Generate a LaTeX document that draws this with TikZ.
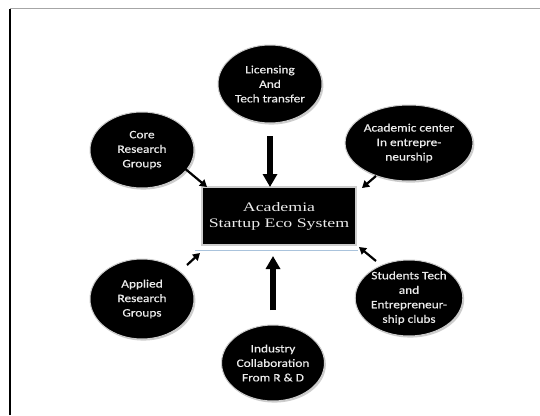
\documentclass[tikz,border=0pt]{standalone}
\usepackage{fontspec}
\setmainfont[FakeStretch=1.18,FakeBold=0.5]{Carlito}
\newfontfamily\titlefont[FakeStretch=1.37]{Liberation Serif}
\usetikzlibrary{arrows.meta,shadows,shapes.geometric}
\definecolor{rimgray}{RGB}{205,205,205}
\definecolor{paleblue}{RGB}{170,195,220}
\definecolor{softwhite}{RGB}{235,235,235}
\tikzset{
  bubble/.style={ellipse, fill=black, draw=rimgray, line width=1pt,
    drop shadow={shadow xshift=1.4pt, shadow yshift=-1.6pt, fill=rimgray, opacity=1},
    text=softwhite, align=center, inner sep=0pt,
    font=\fontsize{11.3}{14.5}\selectfont},
  titlebox/.style={rectangle, fill=black, draw=rimgray, line width=1.8pt,
    drop shadow={shadow xshift=1.2pt, shadow yshift=-1.2pt, fill=rimgray!70, opacity=1},
    text=softwhite, align=center, inner sep=0pt,
    font=\titlefont\fontsize{13}{16}\selectfont},
  bigarrow/.style={line width=5.5pt, -{Triangle[width=14pt,length=13pt]}},
  smallarrow/.style={line width=2.2pt, -{Triangle[width=8pt,length=7pt]}},
}
\begin{document}
\begin{tikzpicture}[x=1pt,y=-1pt]
\useasboundingbox (0,0) rectangle (540,415);
\fill[white] (0,0) rectangle (540,415);
% outer frame (open at right and bottom)
\draw[gray!70, line width=1.4pt] (10,8.5) -- (540,8.5);
\draw[black, line width=1.8pt] (10,415) -- (10,8.5);

\node[bubble, minimum width=104pt, minimum height=78pt] (lic) at (270,84) {Licensing\\And\\Tech transfer};
\node[bubble, minimum width=104pt, minimum height=76pt] (core) at (142,150) {Core\\Research\\Groups};
\node[bubble, minimum width=106pt, minimum height=76pt] (acad) at (409,143) {Academic center\\In entrepre-\\neurship};
\node[bubble, minimum width=104pt, minimum height=80pt] (appl) at (142,299) {Applied\\Research\\Groups};
\node[bubble, minimum width=106pt, minimum height=76pt] (stud) at (409,298) {Students Tech\\and\\Entrepreneur-\\ship clubs};
\node[bubble, minimum width=102pt, minimum height=76pt] (ind) at (273,363) {Industry\\Collaboration\\From R \& D};

\node[titlebox, minimum width=154pt, minimum height=58pt] (box) at (279,216) {Academia\\Startup Eco System};
\coordinate (bl1) at (195,250);
\coordinate (bl2) at (358,250);
\draw[paleblue, line width=0.8pt] (bl1) -- (bl2);

\coordinate (t1) at (270,136); \coordinate (t2) at (270,187);
\coordinate (b1) at (273,310); \coordinate (b2) at (273,256);
\coordinate (c1) at (183,167); \coordinate (c2) at (207,187);
\coordinate (a1) at (376,176); \coordinate (a2) at (362,188);
\coordinate (p1) at (187,265); \coordinate (p2) at (200,253);
\coordinate (s1) at (376,261); \coordinate (s2) at (359,247);
\draw[bigarrow] (t1) -- (t2);
\draw[bigarrow] (b1) -- (b2);
\draw[smallarrow] (c1) -- (c2);
\draw[smallarrow] (a1) -- (a2);
\draw[smallarrow] (p1) -- (p2);
\draw[smallarrow] (s1) -- (s2);
\end{tikzpicture}
\end{document}
